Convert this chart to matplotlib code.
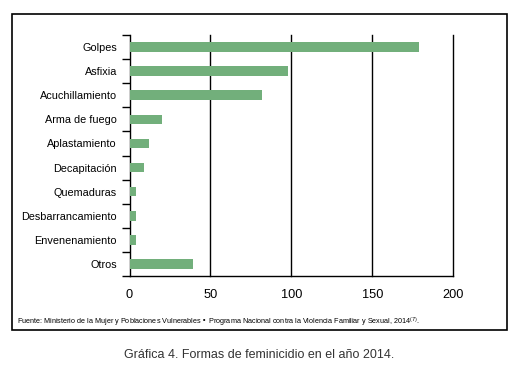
import matplotlib
matplotlib.use('Agg')
import matplotlib.pyplot as plt
from matplotlib.patches import Rectangle

# Data
categories = ['Golpes', 'Asfixia', 'Acuchillamiento', 'Arma de fuego', 'Aplastamiento',
              'Decapitación', 'Quemaduras', 'Desbarrancamiento', 'Envenenamiento', 'Otros']
values = [179, 98, 82, 20, 12, 9, 4, 4, 4, 39]
xticks = [0, 50, 100, 150, 200]

font = 'Liberation Sans'

fig = plt.figure(figsize=(5.18, 3.7), dpi=100)
ax = fig.add_axes([0.25, 0.254, 0.625, 0.6514])

ypos = list(range(len(categories)))
ax.barh(ypos, values, height=0.4, color='#72af7b', zorder=3)
ax.set_ylim(len(categories) - 0.5, -0.5)
ax.set_xlim(0, 200)

# vertical gridlines
for x in xticks[1:]:
    ax.axvline(x, color='black', lw=1.0, zorder=2, clip_on=False)

ax.spines['top'].set_visible(False)
ax.spines['right'].set_visible(False)
for s in ['left', 'bottom']:
    ax.spines[s].set_linewidth(1.0)

# y ticks at category boundaries, labels at centers
ax.set_yticks([i - 0.5 for i in range(len(categories) + 1)])
ax.set_yticklabels([])
ax.set_yticks(ypos, minor=True)
ax.set_yticklabels(categories, minor=True, fontfamily=font, fontsize=7.8)
ax.tick_params(axis='y', which='major', length=6, width=1.0, direction='out')
ax.tick_params(axis='y', which='minor', length=0, pad=9)

ax.set_xticks(xticks)
ax.set_xticklabels([str(v) for v in xticks], fontfamily=font, fontsize=9.2)
ax.tick_params(axis='x', which='major', length=0, pad=9)
ax.set_xticks([0], minor=True)
ax.tick_params(axis='x', which='minor', length=7, width=1.0, direction='out')

# outer frame
fig.patches.append(Rectangle((0.023, 0.108), 0.956, 0.854, transform=fig.transFigure,
                             fill=False, edgecolor='black', lw=1.2))

fig.text(0.033, 0.128, 'Fuente: Ministerio de la Mujer y Poblaciones Vulnerables \u2022 Programa Nacional contra la Violencia Familiar y Sexual, 2014$^{(7)}$.',
         fontsize=5.2, fontfamily=font, color='black', va='center')
fig.text(0.5, 0.04, 'Gráfica 4. Formas de feminicidio en el año 2014.',
         fontsize=9, fontfamily=font, color='#333333', ha='center', va='center')

fig.savefig('out.png', dpi=100)
